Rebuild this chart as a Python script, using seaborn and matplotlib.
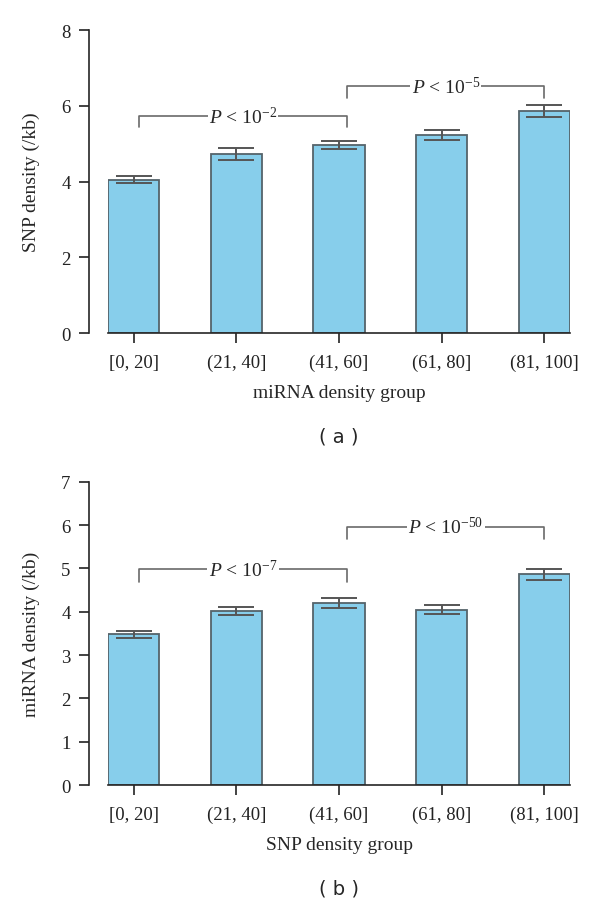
import matplotlib
matplotlib.use("Agg")
import matplotlib.pyplot as plt
import seaborn as sns
import pandas as pd

groups = ["[0, 20]", "(21, 40]", "(41, 60]", "(61, 80]", "(81, 100]"]

# panel (a): SNP density by miRNA density group
snp_mean = [4.05, 4.73, 4.97, 5.23, 5.87]
snp_err = [0.09, 0.15, 0.11, 0.14, 0.16]
# panel (b): miRNA density by SNP density group
mirna_mean = [3.48, 4.02, 4.20, 4.05, 4.86]
mirna_err = [0.08, 0.10, 0.11, 0.11, 0.13]

# brackets: (x start, x end, line height, leg bottom, label)
brackets_a = [(0.05, 2.08, 5.72, 5.43, r"$P$ < 10$^{-2}$"),
              (2.08, 4.0, 6.52, 6.20, r"$P$ < 10$^{-5}$")]
brackets_b = [(0.05, 2.08, 4.98, 4.68, r"$P$ < 10$^{-7}$"),
              (2.08, 4.0, 5.96, 5.67, r"$P$ < 10$^{-50}$")]

sns.set_style("ticks")
plt.rcParams["font.family"] = ["Liberation Serif", "DejaVu Serif"]
plt.rcParams["mathtext.fontset"] = "custom"
plt.rcParams["mathtext.rm"] = "Liberation Serif"
plt.rcParams["mathtext.it"] = "Liberation Serif:italic"

bar_color = "#87CEEB"
edge_color = "#55636a"
line_color = "#6a6a6a"

fig = plt.figure(figsize=(6, 9.04), dpi=100)
ax_a = fig.add_axes([0.18, 0.6305, 0.77, 0.335])
ax_b = fig.add_axes([0.18, 0.1305, 0.77, 0.3355])


def draw_panel(ax, mean, err, brackets, ymax, ylabel, xlabel, tag):
    df = pd.DataFrame({"group": groups, "value": mean})
    sns.barplot(data=df, x="group", y="value", ax=ax, color=bar_color,
                edgecolor=edge_color, linewidth=1.3, width=0.5, saturation=1)
    ax.errorbar(range(len(groups)), mean, yerr=err, fmt="none",
                ecolor="#555555", elinewidth=1.4, capsize=13, capthick=1.4)
    for x0, x1, h, low, label in brackets:
        ax.plot([x0, x0, x1, x1], [low, h, h, low], color=line_color, lw=1.2)
        ax.text((x0 + x1) / 2, h, label, ha="center", va="center", fontsize=14,
                bbox=dict(facecolor="white", edgecolor="none", pad=1))
    ax.set_xlim(-0.25, 4.25)
    ax.set_ylim(0, ymax)
    ax.set_yticks(range(0, ymax + 1, 2 if ymax == 8 else 1))
    sns.despine(ax=ax)
    ax.spines["left"].set_position(("outward", 14))
    ax.spines["left"].set_linewidth(1.2)
    ax.spines["bottom"].set_linewidth(1.2)
    ax.tick_params(axis="both", labelsize=13.5, length=7, width=1.2, colors="#222222")
    ax.tick_params(axis="x", pad=8)
    ax.tick_params(axis="y", pad=6)
    ax.set_ylabel(ylabel, fontsize=14, labelpad=15)
    ax.set_xlabel(xlabel, fontsize=14, labelpad=9)
    ax.text(0.5, -0.34, tag, transform=ax.transAxes, ha="center", va="center",
            fontsize=14, family="DejaVu Sans")


draw_panel(ax_a, snp_mean, snp_err, brackets_a, 8, "SNP density (/kb)",
           "miRNA density group", "( a )")
draw_panel(ax_b, mirna_mean, mirna_err, brackets_b, 7, "miRNA density (/kb)",
           "SNP density group", "( b )")

fig.savefig("out.png", dpi=100)
